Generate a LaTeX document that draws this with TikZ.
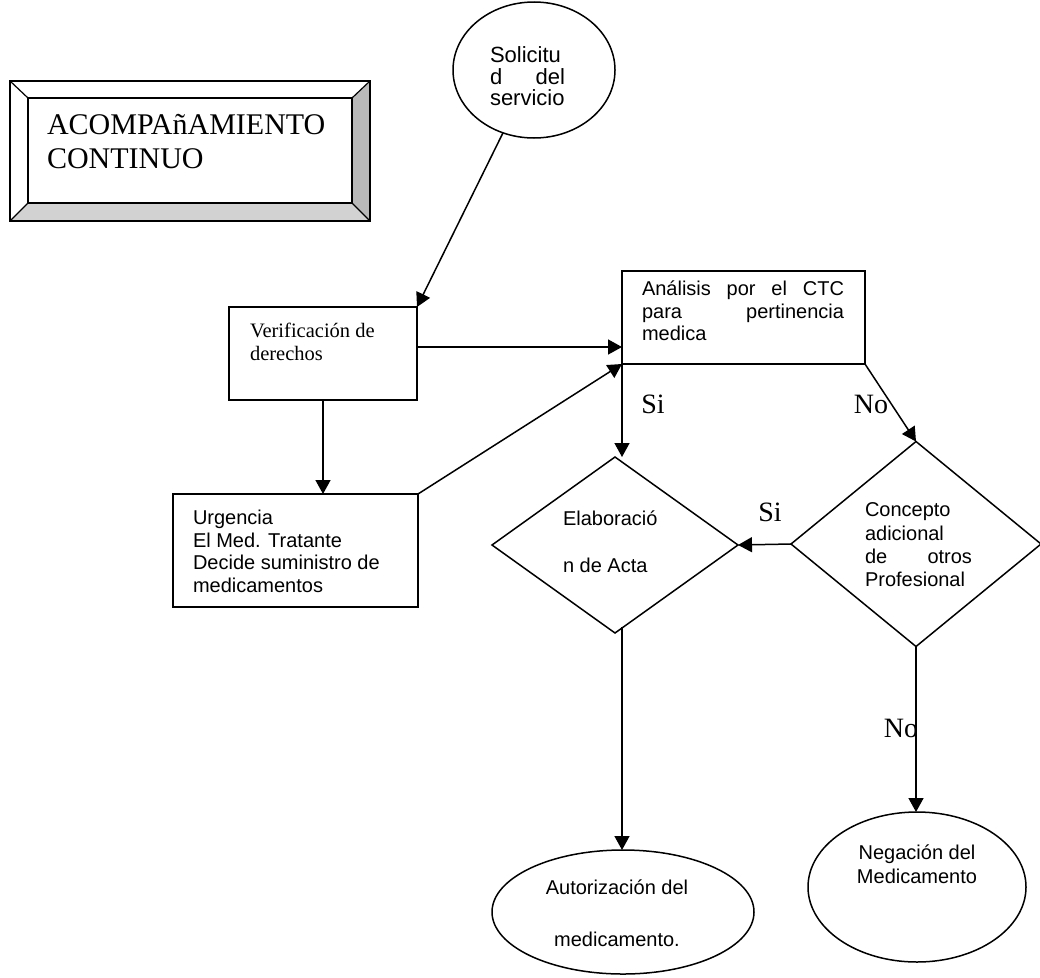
\documentclass[tikz,border=0pt]{standalone}
\usepackage{fontspec}
\setmainfont{Liberation Serif}
\newfontfamily\arialfam{Liberation Sans}
\usetikzlibrary{shapes.geometric,arrows.meta,calc}
\begin{document}
\begin{tikzpicture}[x=1pt,y=-1pt,
  every node/.style={inner sep=0pt, outer sep=0pt},
  outline/.style={draw=black, line width=1.5pt},
  procbox/.style={outline, rectangle, fill=white},
  roundbox/.style={outline, ellipse, fill=white},
  choice/.style={outline, diamond, fill=white},
  flow/.style={line width=1.5pt, -{Triangle[length=14pt,width=15pt]}},
  sanstext/.style={font=\arialfam\fontsize{20}{22.5}\selectfont, align=left},
  serftext/.style={font=\fontsize{20.5}{23.5}\selectfont, align=left},
  answer/.style={font=\fontsize{28}{30}\selectfont},
  bigtitle/.style={font=\fontsize{30}{34}\selectfont, align=left},
]
\useasboundingbox (0,0) rectangle (1040,977);
\fill[white] (0,0) rectangle (1040,977);

% bevelled title panel
\fill[white] (10,81) rectangle (370,221);
\fill[gray!55] (352,98) -- (370,81) -- (370,221) -- (352,203) -- cycle;
\fill[gray!35] (28,203) -- (352,203) -- (370,221) -- (10,221) -- cycle;
\draw[line width=1.5pt] (10,81) rectangle (370,221);
\draw[line width=1.5pt] (28,98) rectangle (352,203);
\draw[line width=1.2pt] (10,81) -- (28,98) (370,81) -- (352,98)
  (10,221) -- (28,203) (370,221) -- (352,203);
\node[bigtitle, anchor=north west] (title) at (47,114) {ACOMPAñAMIENTO\\CONTINUO};

% shapes
\node[roundbox, minimum width=162pt, minimum height=136pt] (sol) at (534,70) {};
\node[procbox, minimum width=188pt, minimum height=93pt] (ver) at (323,353.5) {};
\node[procbox, minimum width=243pt, minimum height=93pt] (ana) at (743.5,317.5) {};
\node[procbox, minimum width=245pt, minimum height=113pt] (urg) at (295.5,550.5) {};
\node[choice, minimum width=246pt, minimum height=176pt] (ela) at (615,545) {};
\node[choice, minimum width=250pt, minimum height=205pt] (con) at (916,544) {};
\node[roundbox, minimum width=218pt, minimum height=150pt] (neg) at (917,887) {};
\node[roundbox, minimum width=262pt, minimum height=124pt] (aut) at (623,912) {};

% texts
\node[sanstext, anchor=north west, text width=75pt, font=\arialfam\fontsize{22}{21.5}\selectfont] (soltxt) at (490,47)
  {Solicitu\\d\hfill del\\servicio};
\node[serftext, anchor=north west] (vertxt) at (250,323)
  {Verificación de\\derechos};
\node[sanstext, anchor=north west, text width=202pt] (anatxt) at (642,281)
  {Análisis\hfill por\hfill el\hfill CTC\\para\hfill pertinencia\\medica};
\node[sanstext, anchor=north west] (urgtxt) at (193,510)
  {Urgencia\\El Med. Tratante\\Decide suministro de\\medicamentos};
\node[sanstext, anchor=north west, font=\arialfam\fontsize{20}{47}\selectfont] (elatxt) at (563,511)
  {Elaboració\\n de Acta};
\node[sanstext, anchor=north west, text width=107pt, font=\arialfam\fontsize{20}{23.3}\selectfont] (contxt) at (865,503)
  {Concepto\\adicional\\de\hfill otros\\Profesional};
\node[sanstext, align=center, anchor=north, font=\arialfam\fontsize{20}{24}\selectfont] (negtxt) at (917,845)
  {Negación del\\Medicamento};
\node[sanstext, align=center, anchor=north, font=\arialfam\fontsize{20}{52}\selectfont] (auttxt) at (617,880)
  {Autorización del\\medicamento.};

% answers on the branches
\node[answer] (si1) at (653,404) {Si};
\node[answer] (no1) at (871,404) {No};
\node[answer] (si2) at (770,512) {Si};
\node[answer, anchor=east] (no2) at (918,728) {No};

% connectors
\coordinate (verout) at ($(ver.east)+(0,-6.5)$);
\coordinate (elaout) at (622,627);
\draw[flow] (sol) -- (ver.north east);
\draw[flow] (verout) -- (verout -| ana.west);
\draw[flow] (ver.south) -- (ver.south |- urg.north);
\draw[flow] (urg.north east) -- (ana.south west);
\draw[flow] (ana.south west) -- (ana.south west |- ela.north);
\draw[flow] (ana.south east) -- (con.north);
\draw[flow] (con.west) -- (ela.east);
\draw[flow] (con.south) -- (con.south |- neg.north);
\draw[flow] (elaout) -- (elaout |- aut.north);
\end{tikzpicture}
\end{document}
